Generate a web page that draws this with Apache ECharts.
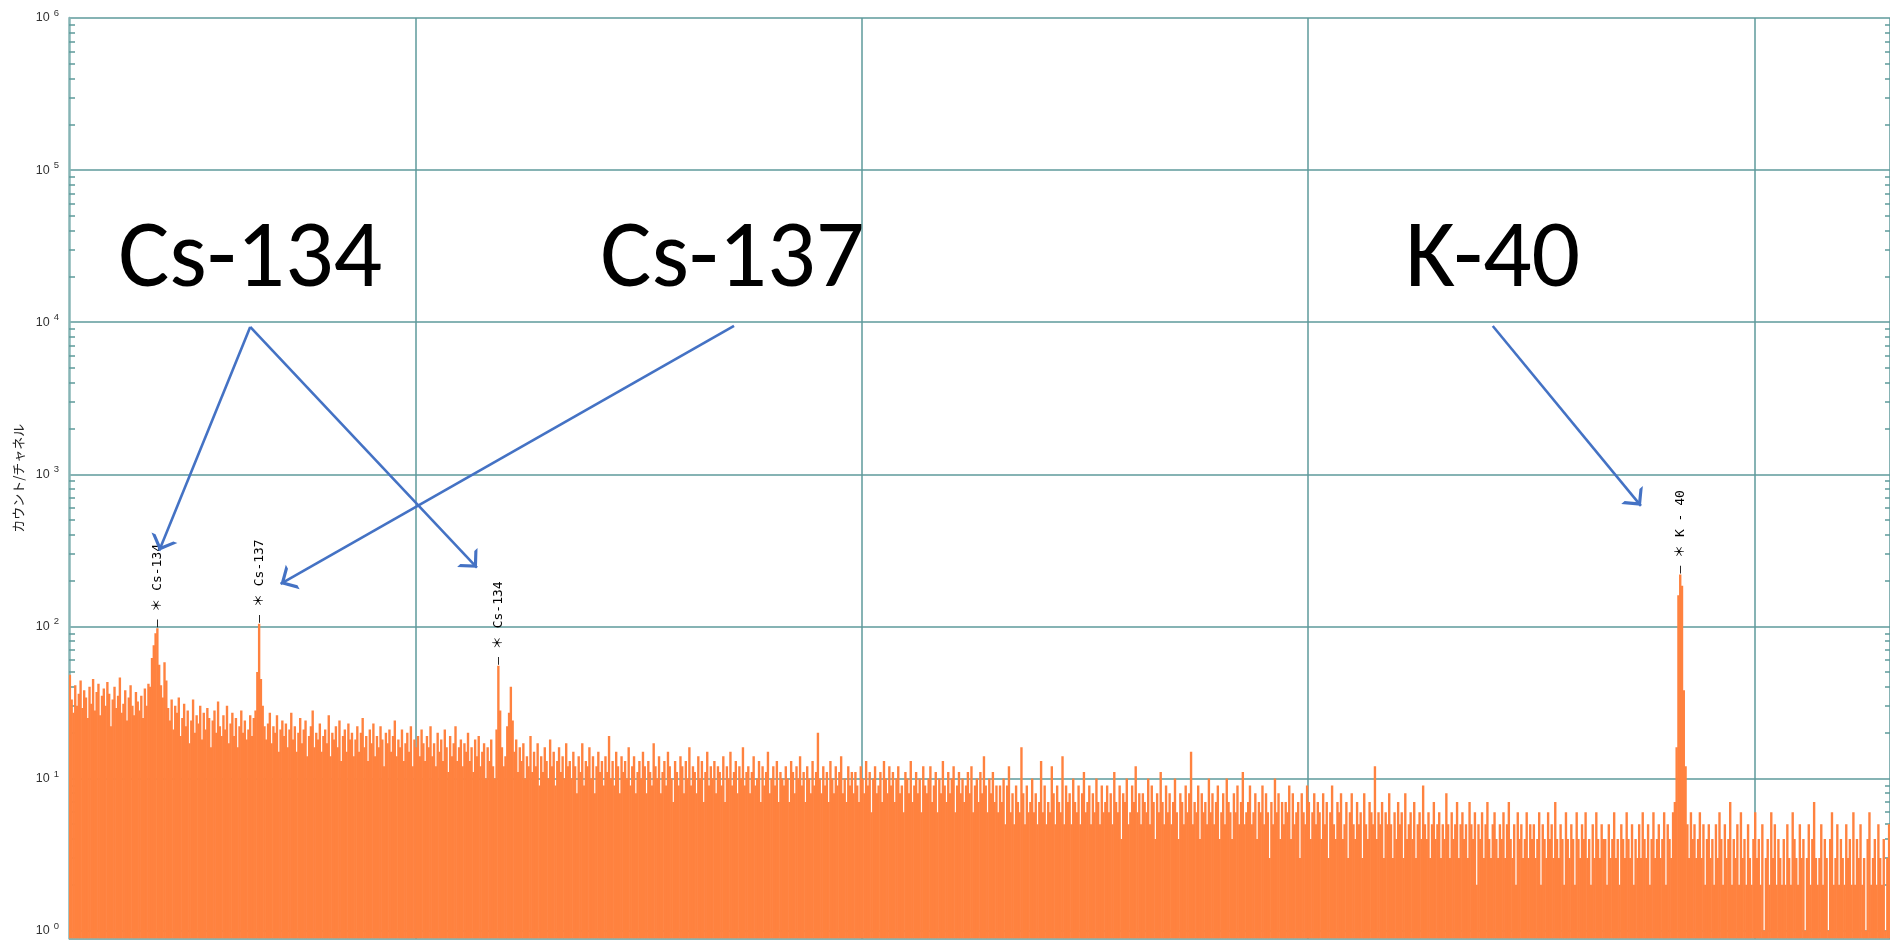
<!DOCTYPE html>
<html>
<head>
<meta charset="utf-8">
<title>γ線スペクトル</title>
<script src="https://cdn.jsdelivr.net/npm/echarts@6.0.0/dist/echarts.min.js"></script>
<style>
  html, body { margin: 0; padding: 0; background: #fff; }
  #chart { width: 1890px; height: 940px; }
</style>
</head>
<body>
<div id="chart"></div>
<script>
// 1チャネル = 1 keV, 556 keV から
const startKeV = 556;
const counts = [
  48, 33, 27, 41, 30, 36, 44, 29, 38, 34, 25, 40, 31, 45, 28, 37, 42, 26, 35, 39,
  30, 43, 36, 22, 33, 40, 29, 35, 46, 27, 31, 38, 24, 34, 41, 30, 26, 37, 32, 28,
  35, 25, 39, 30, 42, 40, 62, 75, 90, 97, 56, 41, 34, 58, 44, 29, 24, 33, 21, 30,
  27, 34, 19, 25, 31, 22, 28, 17, 24, 33, 20, 26, 23, 30, 18, 27, 21, 29, 25, 16,
  24, 28, 20, 32, 22, 19, 26, 21, 30, 17, 23, 27, 19, 25, 16, 22, 28, 20, 24, 18,
  21, 26, 19, 25, 28, 50, 104, 45, 30, 22, 18, 23, 27, 17, 22, 20, 26, 15, 21, 24,
  19, 23, 16, 21, 27, 18, 22, 15, 20, 25, 17, 21, 24, 14, 19, 22, 28, 16, 20, 18,
  23, 15, 19, 21, 17, 26, 14, 20, 18, 22, 16, 24, 13, 19, 21, 15, 23, 18, 20, 14,
  18, 22, 15, 20, 25, 16, 19, 13, 21, 17, 23, 14, 19, 16, 22, 18, 12, 20, 17, 21,
  15, 19, 24, 14, 18, 16, 21, 13, 17, 20, 15, 22, 12, 18, 16, 19, 14, 21, 17, 13,
  19, 16, 22, 14, 17, 12, 20, 15, 18, 13, 21, 16, 11, 19, 14, 17, 22, 13, 16, 18,
  12, 17, 15, 20, 13, 16, 11, 18, 14, 19, 12, 15, 17, 10, 16, 13, 18, 12, 10, 21,
  55, 28, 16, 12, 14, 22, 27, 40, 24, 15, 18, 11, 16, 13, 17, 10, 14, 12, 19, 11,
  15, 12, 17, 9, 14, 11, 16, 13, 10, 18, 12, 15, 9, 13, 16, 11, 14, 10, 17, 12,
  13, 10, 15, 12, 8, 14, 11, 17, 9, 13, 12, 16, 10, 14, 8, 12, 15, 11, 13, 9,
  14, 11, 19, 10, 13, 9, 15, 12, 8, 14, 11, 13, 10, 16, 9, 12, 14, 8, 11, 13,
  10, 15, 12, 8, 13, 11, 9, 17, 12, 10, 14, 8, 11, 13, 9, 15, 12, 10, 7, 13,
  11, 9, 14, 12, 8, 13, 10, 16, 9, 12, 11, 8, 14, 10, 13, 7, 11, 15, 9, 12,
  10, 13, 8, 12, 11, 9, 14, 7, 12, 10, 15, 9, 11, 13, 8, 12, 10, 16, 9, 11,
  12, 8, 11, 14, 9, 10, 13, 7, 12, 9, 11, 15, 8, 10, 12, 9, 13, 7, 11, 10,
  9, 12, 10, 7, 13, 11, 8, 12, 10, 14, 9, 11, 7, 12, 10, 8, 13, 9, 11, 20,
  10, 8, 12, 9, 11, 7, 13, 10, 8, 12, 9, 11, 14, 8, 10, 7, 12, 9, 11, 8,
  11, 9, 7, 12, 10, 8, 13, 9, 11, 6, 10, 12, 8, 9, 11, 7, 13, 10, 8, 12,
  9, 11, 7, 10, 12, 8, 9, 6, 11, 10, 8, 13, 7, 9, 11, 8, 10, 6, 12, 9,
  8, 10, 12, 7, 9, 11, 6, 10, 8, 13, 9, 7, 11, 8, 10, 12, 6, 9, 11, 8,
  10, 7, 9, 11, 8, 12, 6, 9, 10, 7, 11, 8, 14, 9, 6, 10, 8, 11, 7, 9,
  6, 9, 7, 10, 5, 9, 12, 6, 8, 5, 9, 7, 6, 16, 8, 5, 9, 6, 7, 10,
  6, 8, 5, 7, 13, 6, 9, 5, 7, 6, 12, 8, 5, 9, 7, 6, 14, 5, 9, 7,
  8, 5, 10, 7, 6, 9, 5, 8, 11, 6, 7, 9, 5, 8, 6, 10, 7, 5, 9, 6,
  7, 9, 6, 8, 5, 11, 7, 6, 9, 4, 8, 7, 10, 5, 6, 9, 7, 12, 6, 8,
  5, 8, 7, 6, 10, 5, 9, 7, 4, 8, 6, 11, 7, 5, 9, 6, 8, 5, 7, 10,
  6, 4, 8, 7, 5, 9, 6, 8, 15, 5, 7, 6, 9, 4, 8, 6, 7, 5, 10, 6,
  8, 5, 7, 9, 4, 6, 8, 5, 10, 7, 6, 4, 8, 6, 9, 5, 7, 11, 5, 6,
  7, 9, 5, 6, 8, 4, 7, 6, 9, 5, 8, 6, 3, 7, 5, 10, 6, 8, 4, 7,
  5, 7, 6, 9, 4, 8, 5, 6, 7, 3, 8, 6, 5, 9, 7, 4, 6, 8, 5, 7,
  6, 4, 8, 5, 7, 3, 6, 9, 5, 4, 7, 6, 8, 4, 5, 7, 3, 6, 8, 5,
  4, 7, 5, 6, 3, 8, 5, 4, 7, 6, 5, 12, 4, 6, 5, 7, 3, 6, 5, 8,
  5, 3, 6, 4, 7, 5, 6, 3, 8, 4, 5, 6, 4, 7, 3, 5, 6, 4, 9, 5,
  4, 6, 3, 5, 7, 4, 5, 6, 3, 5, 4, 8, 5, 3, 6, 4, 5, 7, 3, 5,
  6, 4, 5, 3, 7, 5, 4, 6, 2, 5, 4, 6, 3, 5, 7, 4, 3, 5, 6, 4,
  3, 5, 4, 6, 3, 5, 7, 4, 3, 5, 2, 6, 4, 5, 3, 4, 6, 3, 5, 4,
  5, 3, 4, 6, 2, 5, 4, 3, 6, 4, 5, 3, 7, 4, 3, 5, 4, 2, 6, 4,
  3, 5, 4, 2, 6, 4, 3, 5, 4, 6, 3, 4, 2, 5, 3, 6, 4, 3, 5, 4,
  4, 2, 5, 3, 4, 6, 3, 4, 2, 5, 4, 3, 6, 4, 3, 5, 2, 4, 3, 5,
  3, 6, 4, 3, 5, 2, 4, 6, 3, 4, 5, 3, 4, 6, 2, 5, 4, 3, 6, 7,
  16, 160, 219, 185, 38, 12, 5, 3, 6, 4, 5, 3, 4, 6, 3, 5, 2, 4, 5, 3,
  4, 2, 5, 3, 6, 4, 2, 5, 3, 4, 7, 2, 4, 3, 5, 2, 6, 3, 4, 2,
  5, 3, 2, 4, 6, 3, 4, 2, 5, 1, 3, 4, 2, 6, 3, 5, 2, 4, 3, 2,
  4, 2, 5, 3, 2, 6, 4, 3, 2, 5, 3, 4, 1, 3, 5, 2, 4, 7, 3, 2,
  3, 5, 2, 4, 3, 1, 4, 6, 2, 3, 5, 2, 4, 3, 2, 5, 3, 4, 2, 6,
  2, 4, 3, 5, 2, 3, 1, 4, 6, 2, 3, 4, 2, 5, 3, 2, 4, 1, 3, 5
];
const energies = counts.map((c, i) => String(startKeV + i));

// 縦の目盛線 (keV)
const gridKeV = [750, 1000, 1250, 1500];

// ピーク表示
const peakKeV = [605, 662, 796, 1458];
const peakNames = ['＊ Cs-134', '＊ Cs-137', '＊ Cs-134', '＊ K - 40'];

// 大きい注記と矢印  [keV, カウント]
const noteNames = ['Cs-134', 'Cs-137', 'K-40'];
const notePos = [[657, 25000], [927, 25000], [1353, 25000]];
const arrowFrom = [[657, 9300], [657, 9300], [928, 9440], [1353, 9440]];
const arrowTo = [[606, 314], [784, 243], [674, 190], [1436, 620]];

// 縦軸
const decades = [1, 10, 100, 1e3, 1e4, 1e5, 1e6];
const yMin = 0.886; // 10^0 の線より少し下まで描く
const minorTicks = [];
decades.slice(0, 6).forEach(d => {
    for (let k = 2; k <= 9; k++) minorTicks.push(d * k);
});

const gridColor = '#5e9a9b';
const axisColor = '#86b4b5';
const barColor = '#ff823f';
const arrowColor = '#4472c4';

const chart = echarts.init(document.getElementById('chart'));

// ヒストグラムの棒 (プロット下端から描く、隙間が出ないよう少し重ねる)
const renderBar = (params, api) => {
    const idx = api.value(0);
    const top = api.coord([idx, api.value(1)]);
    const w = api.size([1, 0])[0];
    const bottom = params.coordSys.y + params.coordSys.height;
    const rect = {
        type: 'rect',
        shape: {x: top[0] - w / 2 - 0.3, y: top[1], width: w + 0.6, height: bottom - top[1]},
        style: {fill: barColor}
    };
    const p = peakKeV.indexOf(startKeV + params.dataIndex);
    if (p < 0) return rect;
    return {
        type: 'group',
        children: [rect, {
            type: 'text',
            x: top[0],
            y: top[1] - 1,
            rotation: Math.PI / 2,
            style: {
                text: '— ' + peakNames[p],
                fill: '#000',
                font: '13px "DejaVu Sans Mono", "Noto Sans CJK JP"',
                align: 'left',
                verticalAlign: 'middle'
            }
        }]
    };
};

// 補助目盛だけの軸
const minorAxis = (pos, len) => ({
    type: 'log',
    min: yMin,
    max: 1e6,
    position: pos,
    axisLine: {show: false},
    axisTick: {show: true, inside: true, length: len, customValues: minorTicks,
        lineStyle: {color: gridColor, width: 1.5}},
    axisLabel: {show: false},
    splitLine: {show: false}
});

chart.setOption({
    animation: false,
    grid: {left: 69, right: 0, top: 18, bottom: 0},
    xAxis: {
        type: 'category',
        data: energies,
        axisLine: {show: false},
        axisTick: {show: false},
        axisLabel: {show: false},
        splitLine: {
            show: true,
            interval: (idx, val) => gridKeV.includes(+val),
            lineStyle: {color: gridColor, width: 1.5}
        }
    },
    yAxis: [{
        type: 'log',
        min: yMin,
        max: 1e6,
        splitNumber: 6,
        position: 'left',
        name: 'カウント/チャネル',
        nameLocation: 'middle',
        nameRotate: 90,
        nameGap: 40,
        nameTextStyle: {fontSize: 13, color: '#222', fontFamily: 'Noto Sans CJK JP'},
        axisLine: {show: true, lineStyle: {color: axisColor, width: 2.5}},
        axisTick: {show: false},
        axisLabel: {
            customValues: decades,
            margin: 10,
            formatter: v => '{m|10}{e|' + Math.round(Math.log10(v)) + '}',
            rich: {
                m: {fontSize: 12.5, color: '#333', fontFamily: 'Liberation Sans', lineHeight: 12},
                e: {fontSize: 9.5, color: '#333', fontFamily: 'Liberation Sans', lineHeight: 9,
                    padding: [0, 0, 9, 4]}
            }
        },
        splitLine: {show: true, lineStyle: {color: gridColor, width: 1.5}}
    }, minorAxis('left', 6), minorAxis('right', 5)],
    series: [{
        type: 'custom',
        name: 'spectrum',
        silent: true,
        clip: true,
        encode: {x: 0, y: 1},
        data: counts.map((v, i) => [i, v]),
        renderItem: renderBar
    }, {
        // 注記と矢印
        type: 'line',
        data: [],
        silent: true,
        markLine: {
            silent: true,
            symbol: ['none', 'path://M10,0L10.01,0ZM10,10L17,20L14.8,20L10,13.2L5.2,20L3,20Z'],
            symbolSize: 28,
            label: {show: false},
            lineStyle: {color: arrowColor, width: 2.6, type: 'solid'},
            data: arrowFrom.map((a, i) => [
                {coord: [a[0] - startKeV, a[1]]},
                {coord: [arrowTo[i][0] - startKeV, arrowTo[i][1]]}
            ])
        },
        markPoint: {
            silent: true,
            symbol: 'circle',
            symbolSize: 1,
            itemStyle: {color: 'rgba(0,0,0,0)'},
            label: {
                show: true,
                position: 'inside',
                formatter: p => p.name,
                fontSize: 96,
                color: '#000',
                fontFamily: 'Carlito, Noto Sans, sans-serif'
            },
            data: noteNames.map((n, i) => ({
                name: n,
                coord: [notePos[i][0] - startKeV, notePos[i][1]]
            }))
        }
    }]
});
</script>
</body>
</html>
